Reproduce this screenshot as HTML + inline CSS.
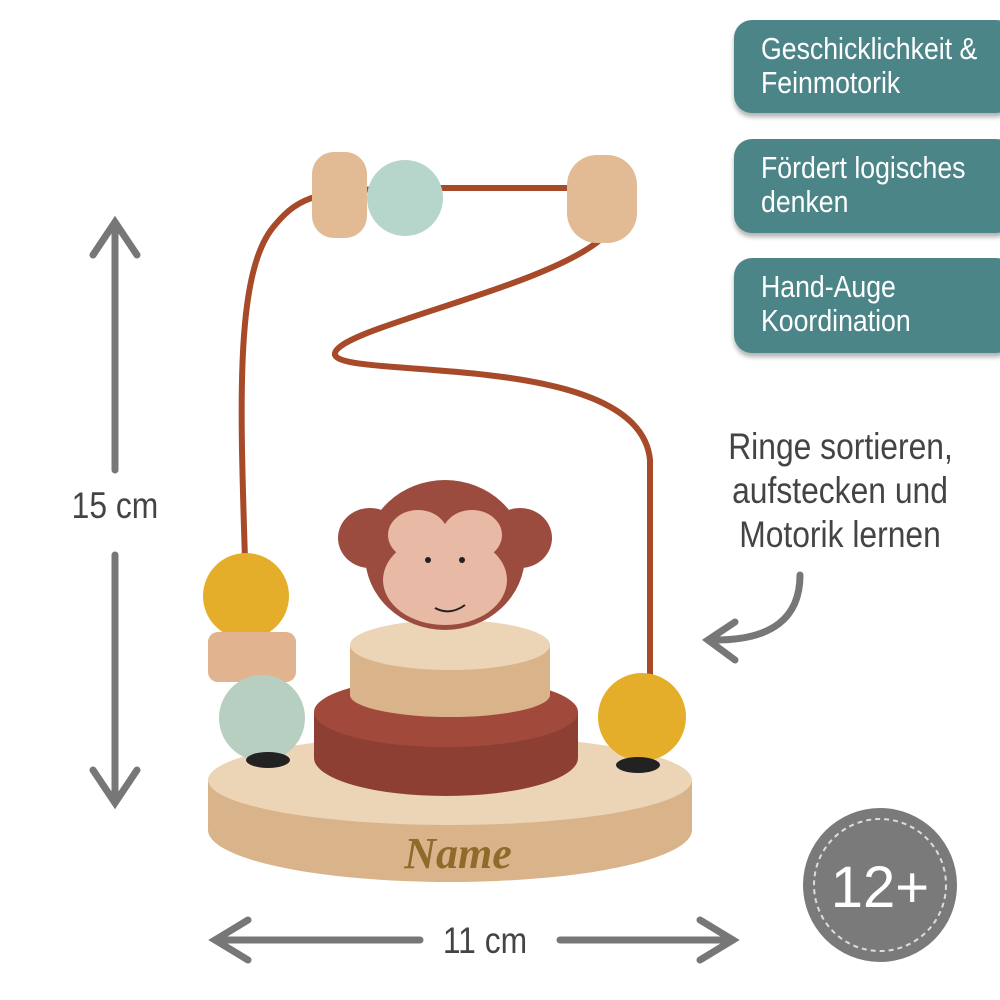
<!DOCTYPE html>
<html><head><meta charset="utf-8"><style>
html,body{margin:0;padding:0;background:#fff;width:1000px;height:1000px;overflow:hidden}
.b{position:absolute;left:734px;width:280px;background:#4b8588;border-radius:18px;box-shadow:0 4px 5px rgba(0,0,0,.3);box-sizing:border-box}
.b span{position:absolute;left:27px;top:12px;color:#fff;font-family:"Liberation Sans",sans-serif;font-size:31px;line-height:34px;white-space:nowrap;transform:scaleX(0.86);transform-origin:0 0}
.t{position:absolute;font-family:"Liberation Sans",sans-serif;color:#444;font-size:37px;white-space:nowrap;transform:scaleX(0.86);transform-origin:50% 0}
</style></head><body>
<div class="b" style="top:20px;height:93px"><span>Geschicklichkeit &amp;<br>Feinmotorik</span></div>
<div class="b" style="top:139px;height:94px"><span>Fördert logisches<br>denken</span></div>
<div class="b" style="top:258px;height:95px"><span>Hand-Auge<br>Koordination</span></div>
<div class="t" style="left:710px;top:425px;line-height:44px;text-align:center;width:260px">Ringe sortieren,<br>aufstecken und<br>Motorik lernen</div>
<div class="t" style="left:60px;top:485px;width:110px;text-align:center">15 cm</div>
<div class="t" style="left:430px;top:920px;width:110px;text-align:center">11 cm</div>
<svg width="1000" height="1000" style="position:absolute;left:0;top:0">
<g stroke="#777" stroke-width="7" fill="none" stroke-linecap="round">
<line x1="115" y1="225" x2="115" y2="470"/><polyline points="93,255 115,222 137,255"/>
<line x1="115" y1="555" x2="115" y2="800"/><polyline points="93,770 115,803 137,770"/>
<line x1="218" y1="940" x2="420" y2="940"/><polyline points="248,920 215,940 248,960"/>
<line x1="560" y1="940" x2="730" y2="940"/><polyline points="700,920 733,940 700,960"/>
<path d="M800,575 Q800,640 715,640"/><polyline points="735,622 708,640 735,660"/>
</g>
<circle cx="880" cy="885" r="77" fill="#7a7a7a"/>
<circle cx="880" cy="885" r="66" fill="none" stroke="#ddd" stroke-width="2" stroke-dasharray="5,4"/>
<text x="880" y="907" text-anchor="middle" font-family="Liberation Sans" font-size="58" fill="#fff">12+</text>
<ellipse cx="450" cy="830" rx="242" ry="52" fill="#d9b48a"/>
<rect x="208" y="780" width="484" height="50" fill="#d9b48a"/>
<ellipse cx="450" cy="780" rx="242" ry="45" fill="#ecd5b6"/>
<text x="458" y="868" text-anchor="middle" font-family="Liberation Serif" font-style="italic" font-weight="bold" font-size="44" fill="#8f6a2a">Name</text>
<path d="M245,560 C240,400 235,270 275,225 C300,195 320,190 410,188 L620,188 C640,190 630,215 600,240 C540,290 330,330 335,355 C345,380 640,350 650,460 L650,700" fill="none" stroke="#a64a2a" stroke-width="6"/>
<ellipse cx="446" cy="758" rx="132" ry="38" fill="#8e3f33"/>
<rect x="314" y="712" width="264" height="46" fill="#8e3f33"/>
<ellipse cx="446" cy="712" rx="132" ry="35" fill="#a14a3b"/>
<ellipse cx="450" cy="695" rx="100" ry="22" fill="#d9b48a"/>
<rect x="350" y="645" width="200" height="50" fill="#d9b48a"/>
<ellipse cx="450" cy="645" rx="100" ry="25" fill="#ecd5b6"/>
<ellipse cx="370" cy="538" rx="32" ry="30" fill="#9c4c3f"/>
<ellipse cx="520" cy="538" rx="32" ry="30" fill="#9c4c3f"/>
<ellipse cx="445" cy="555" rx="80" ry="75" fill="#9c4c3f"/>
<ellipse cx="445" cy="580" rx="62" ry="45" fill="#e8b9a4"/>
<ellipse cx="418" cy="535" rx="30" ry="25" fill="#e8b9a4"/>
<ellipse cx="472" cy="535" rx="30" ry="25" fill="#e8b9a4"/>
<circle cx="428" cy="560" r="3" fill="#222"/><circle cx="462" cy="560" r="3" fill="#222"/>
<path d="M435,608 Q450,616 465,605" fill="none" stroke="#222" stroke-width="2"/>
<circle cx="246" cy="596" r="43" fill="#e5ae2a"/>
<rect x="208" y="632" width="88" height="50" rx="10" fill="#e1b48f"/>
<circle cx="262" cy="718" r="43" fill="#b6cfc1"/>
<ellipse cx="268" cy="760" rx="22" ry="8" fill="#222"/>
<circle cx="642" cy="717" r="44" fill="#e5ae2a"/>
<ellipse cx="638" cy="765" rx="22" ry="8" fill="#222"/>
<rect x="312" y="152" width="55" height="86" rx="22" fill="#e2bb95"/>
<circle cx="405" cy="198" r="38" fill="#b6d6cc"/>
<rect x="567" y="155" width="70" height="88" rx="30" fill="#e2bb95"/>
</svg>
</body></html>
